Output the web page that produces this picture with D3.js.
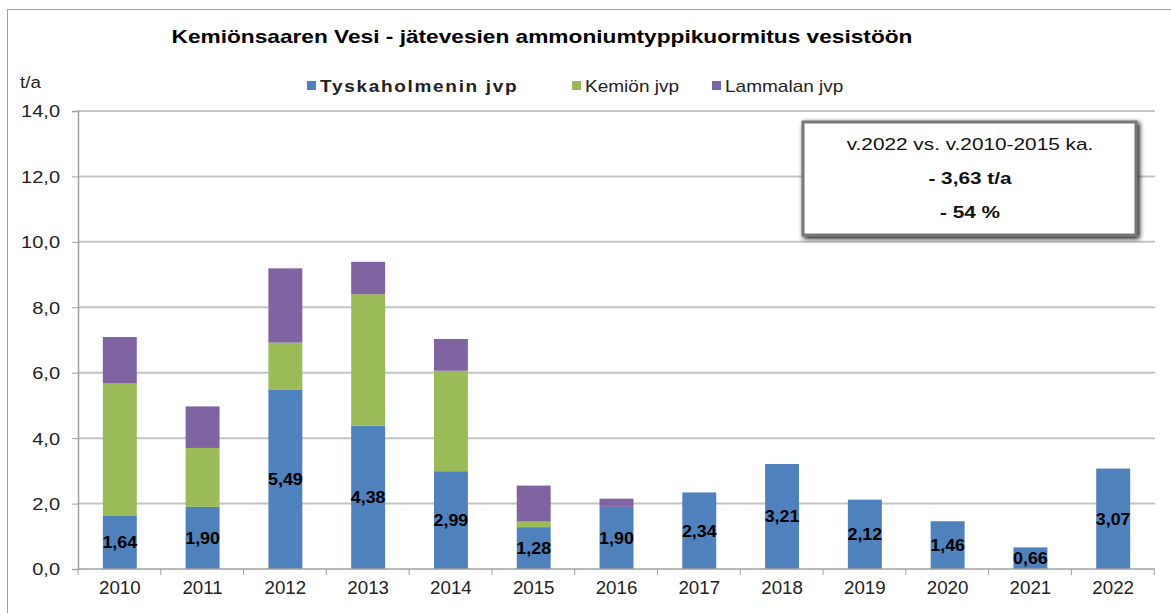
<!DOCTYPE html>
<html>
<head>
<meta charset="utf-8">
<script src="https://d3js.org/d3.v7.min.js"></script>
<style>
body { margin:0; background:#fff; }
svg text { font-family: "Liberation Sans", Arial, sans-serif; }
</style>
</head>
<body>
<svg id="plot"></svg>
<script>
// data
var years = ["2010","2011","2012","2013","2014","2015","2016","2017","2018","2019","2020","2021","2022"];
var tyskaholmen = [1.64,1.90,5.49,4.38,2.99,1.28,1.90,2.34,3.21,2.12,1.46,0.66,3.07];
var kemio = [4.03,1.80,1.43,4.02,3.07,0.17,0,0,0,0,0,0,0];
var lammala = [1.42,1.27,2.27,0.99,0.97,1.10,0.25,0,0,0,0,0,0];
var seriesNames = ["Tyskaholmenin jvp","Kemiön jvp","Lammalan jvp"];
var colors = ["#4f81bd","#9bbb59","#8064a2"];
var yTicks = [0,2,4,6,8,10,12,14];
var boxLines = ["v.2022 vs. v.2010-2015 ka.","- 3,63 t/a","- 54 %"];

var W = 1171, H = 613;
var margins = {top:111, bottom:44, left:78, right:16};
var graph = {width: W-margins.left-margins.right, height: H-margins.top-margins.bottom};

// the original text is a bit wider than the font, stretch it around its x
var stretch = function(sel, sx)
{
    sel.attr("transform",function()
    {
        var x = +d3.select(this).attr("x");
        return "translate("+(x*(1-sx))+",0) scale("+sx+",1)";
    });
}

var svg = d3.select("#plot").attr("width",W).attr("height",H);

// chart border
svg.append("rect")
    .attr("x",7.5).attr("y",9.5)
    .attr("width",W+10).attr("height",H+10)
    .attr("fill","none").attr("stroke","#a0a0a0");

var table = years.map(function(y,i){
    return {year:y, t:tyskaholmen[i], k:kemio[i], l:lammala[i]};
});
var stack = d3.stack().keys(["t","k","l"]);
var series = stack(table);

var xScale = d3.scaleBand().domain(years).range([0,graph.width]).paddingInner(0.59).paddingOuter(0.3);
var yScale = d3.scaleLinear().domain([0,14]).range([graph.height,0]);

var g = svg.append("g").attr("transform","translate("+margins.left+","+margins.top+")");

// gridlines
g.append("g").selectAll("line").data(yTicks.slice(1)).enter().append("line")
    .attr("x1",0).attr("x2",graph.width)
    .attr("y1",function(d){return yScale(d);}).attr("y2",function(d){return yScale(d);})
    .attr("stroke","#c4c4c4").attr("stroke-width",2);

// bars
g.append("g").selectAll("g").data(series).enter().append("g")
    .attr("fill",function(d,i){return colors[i];})
    .selectAll("rect").data(function(d){return d;}).enter().append("rect")
    .attr("x",function(d){return xScale(d.data.year);})
    .attr("width",xScale.bandwidth())
    .attr("y",function(d){return yScale(d[1]);})
    .attr("height",function(d){return yScale(d[0])-yScale(d[1]);});

// y axis
var yAxis = d3.axisLeft(yScale).tickValues(yTicks).tickSize(6).tickPadding(10)
    .tickFormat(function(d){return d3.format(".1f")(d).replace(".",",");});
var ya = g.append("g").call(yAxis);
ya.select(".domain").attr("stroke","#a0a0a0").attr("stroke-width",1.5);
ya.selectAll(".tick line").attr("stroke","#a0a0a0");
ya.selectAll("text").attr("font-size",17).attr("fill","#222").attr("dy","0.35em")
    .attr("transform","translate(-2,0) scale(1.18,1)").attr("x",-13.5);

// x axis
var xa = g.append("g").attr("transform","translate(0,"+graph.height+")");
xa.append("line").attr("x1",0).attr("x2",graph.width).attr("stroke","#a0a0a0").attr("stroke-width",1.5);
var step = xScale.step();
xa.selectAll(".tk").data(d3.range(years.length+1)).enter().append("line")
    .attr("x1",function(i){return i*step;}).attr("x2",function(i){return i*step;})
    .attr("y1",0).attr("y2",6).attr("stroke","#a0a0a0");
xa.selectAll("text").data(years).enter().append("text")
    .attr("x",function(d){return xScale(d)+xScale.bandwidth()/2;})
    .attr("y",25).attr("text-anchor","middle")
    .attr("font-size",18).attr("fill","#222")
    .text(function(d){return d;})
    .call(stretch,1.04);

// value labels
g.append("g").selectAll("text").data(table).enter().append("text")
    .attr("x",function(d){return xScale(d.year)+xScale.bandwidth()/2;})
    .attr("y",function(d){return yScale(d.t/2)+6;})
    .attr("text-anchor","middle").attr("font-size",17).attr("font-weight","bold").attr("fill","#000")
    .text(function(d){return d3.format(".2f")(d.t).replace(".",",");})
    .call(stretch,1.05);

// title
svg.append("text").attr("x",542).attr("y",43).attr("text-anchor","middle")
    .attr("font-size",18).attr("font-weight","bold")
    .text("Kemiönsaaren Vesi - jätevesien ammoniumtyppikuormitus vesistöön")
    .call(stretch,1.26);

svg.append("text").attr("x",20).attr("y",88).attr("font-size",17).attr("fill","#222").text("t/a")
    .call(stretch,1.1);

// legend
var legX = [307,572,712];
var leg = svg.append("g").selectAll("g").data(seriesNames).enter().append("g")
    .attr("transform",function(d,i){return "translate("+legX[i]+",81)";});
leg.append("rect").attr("width",9).attr("height",9).attr("fill",function(d,i){return colors[i];});
leg.append("text").attr("x",13).attr("y",11).attr("font-size",17)
    .attr("font-weight",function(d,i){return i==0?"bold":"normal";})
    .attr("letter-spacing",function(d,i){return i==0?1.5:0;})
    .attr("fill","#222").text(function(d){return d;})
    .call(stretch,1.12);

// annotation box
var defs = svg.append("defs");
var f = defs.append("filter").attr("id","shadow").attr("x","-10%").attr("y","-20%").attr("width","120%").attr("height","140%");
f.append("feGaussianBlur").attr("in","SourceAlpha").attr("stdDeviation",2.5);
f.append("feOffset").attr("dx",2).attr("dy",2).attr("result","b");
var fm = f.append("feMerge");
fm.append("feMergeNode").attr("in","b");
fm.append("feMergeNode").attr("in","SourceGraphic");

var box = svg.append("g").attr("transform","translate(803,122)");
box.append("rect").attr("width",333).attr("height",113)
    .attr("fill","#fff").attr("stroke","#777").attr("stroke-width",3).attr("filter","url(#shadow)");
box.selectAll("text").data(boxLines).enter().append("text")
    .attr("x",167).attr("y",function(d,i){return 28+i*34;})
    .attr("text-anchor","middle").attr("font-size",16)
    .attr("font-weight",function(d,i){return i==0?"normal":"bold";})
    .attr("fill","#111").text(function(d){return d;})
    .call(stretch,1.3);
</script>
</body>
</html>
